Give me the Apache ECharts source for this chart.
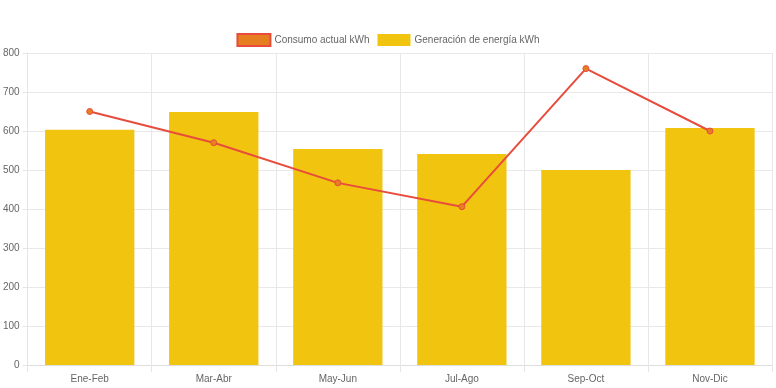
<!DOCTYPE html>
<html><head><meta charset="utf-8">
<script src="https://cdn.jsdelivr.net/npm/echarts@6/dist/echarts.min.js"></script>
<style>html,body{margin:0;padding:0;background:#fff}#c{width:776px;height:388px}</style>
</head><body><div id="c"></div>
<script>
const categories = ['Ene-Feb','Mar-Abr','May-Jun','Jul-Ago','Sep-Oct','Nov-Dic'];
const consumo = [650, 570, 467, 406, 760, 600];
const generacion = [603, 649, 554, 541, 500, 608];
const yTicks = [0, 800, 100];

const chart = echarts.init(document.getElementById('c'));
const font = 'Helvetica, Arial, "Liberation Sans", sans-serif';
chart.setOption({
  animation: false,
  textStyle: {fontFamily: font},
  legend: {
    top: 28, left: 'center', itemWidth: 33, itemHeight: 12, itemGap: 8,
    textStyle: {color: '#666', fontSize: 10, fontFamily: font, padding: [0, 0, 0, -1]},
    data: [
      {name: 'Consumo actual kWh', icon: 'rect', itemStyle: {color: '#e67e22', borderColor: '#e74c3c', borderWidth: 2}},
      {name: 'Generación de energía kWh', icon: 'rect', itemStyle: {color: '#f1c40f'}}
    ]
  },
  grid: {left: 27, right: 4, top: 53, bottom: 23},
  xAxis: {
    type: 'category', data: categories, boundaryGap: true,
    axisLine: {show: true, lineStyle: {color: '#ddd'}},
    axisTick: {show: true, length: 7, lineStyle: {color: '#e5e5e5'}},
    splitLine: {show: true, lineStyle: {color: '#e8e8e8'}},
    axisLabel: {color: '#666', fontSize: 10, margin: 9, fontFamily: font}
  },
  yAxis: {
    type: 'value', min: yTicks[0], max: yTicks[1], interval: yTicks[2],
    axisLine: {show: true, lineStyle: {color: '#e5e5e5'}},
    axisTick: {show: true, length: 5, lineStyle: {color: '#e5e5e5'}},
    splitLine: {show: true, lineStyle: {color: '#e8e8e8'}},
    axisLabel: {color: '#666', fontSize: 10, margin: 8, fontFamily: font}
  },
  series: [
    {
      name: 'Consumo actual kWh', type: 'line', data: consumo, z: 3,
      symbol: 'circle', symbolSize: 6,
      lineStyle: {color: '#e74c3c', width: 2},
      itemStyle: {color: '#e67e22', borderColor: '#e74c3c', borderWidth: 1}
    },
    {
      name: 'Generación de energía kWh', type: 'bar', data: generacion, z: 2,
      barCategoryGap: '28%',
      itemStyle: {color: '#f1c40f'}
    }
  ]
});
</script></body></html>
